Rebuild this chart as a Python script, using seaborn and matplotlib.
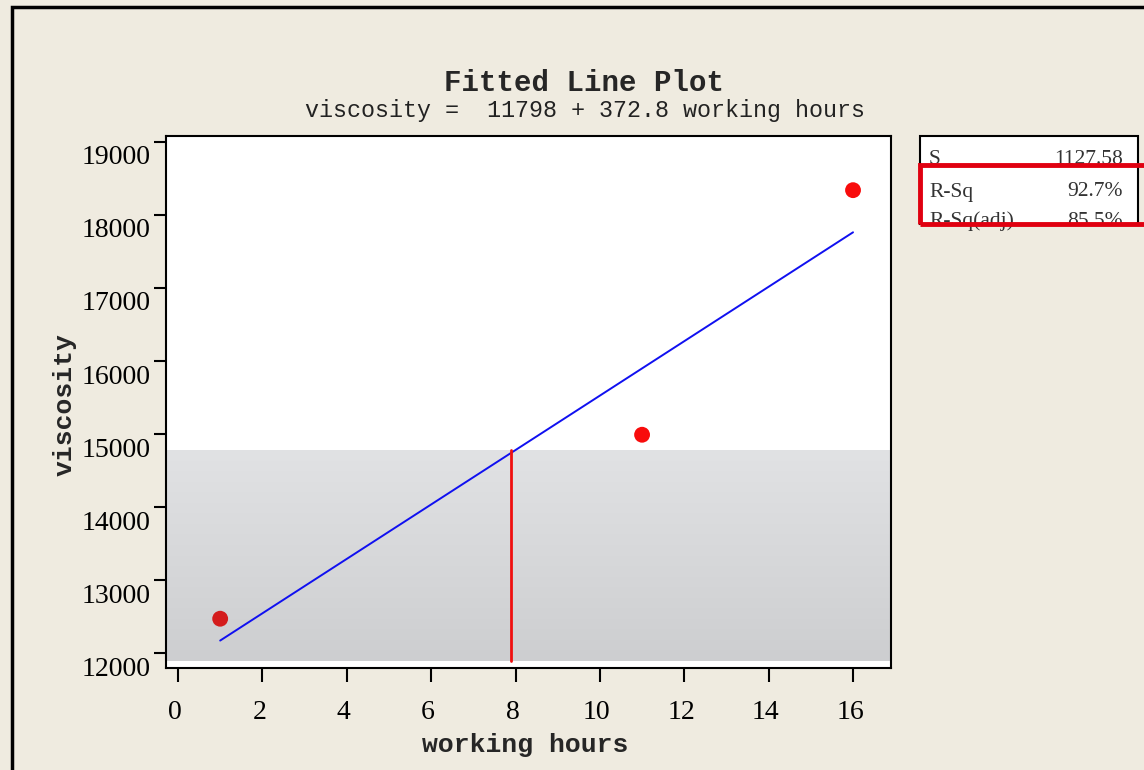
import numpy as np
import pandas as pd
import matplotlib
matplotlib.use("Agg")
import matplotlib.pyplot as plt
import matplotlib.transforms as mtransforms
from matplotlib.patches import Rectangle
from matplotlib.colors import LinearSegmentedColormap
import seaborn as sns

# ---- data ----
hours = [1, 11, 16]
viscosity = [12470, 14990, 18340]
intercept = 11798
slope = 372.8
stat_names = ["S", "R-Sq", "R-Sq(adj)"]
stat_values = ["1127.58", "92.7%", "85.5%"]
x_ticks = [0, 2, 4, 6, 8, 10, 12, 14, 16]
y_ticks = [12000, 13000, 14000, 15000, 16000, 17000, 18000, 19000]
band_top = 14780
band_bottom = 11890
marker_x = 7.9

sns.set_theme(style="white")
plt.rcParams['font.family'] = ['Liberation Serif', 'DejaVu Sans']

BG = "#EFEBE0"
fig = plt.figure(figsize=(11.44, 7.70), dpi=100, facecolor=BG)
W, H = 1144, 770

def fx(px):
    return px / W

def fy(py):
    return 1 - py / H

# outer frame
fig.patches.append(Rectangle((fx(12), fy(800)), fx(1200), fy(7) - fy(800),
                             transform=fig.transFigure, fill=False,
                             edgecolor="black", linewidth=2.5, zorder=0))

ax = fig.add_axes([fx(166), fy(668), fx(891) - fx(166), fy(136) - fy(668)])
ax.set_facecolor("white")
XL = (-0.284, 16.90)
YL = (11795, 19082)

# gradient band
grad = np.linspace(0, 1, 256).reshape(-1, 1)
cmap = LinearSegmentedColormap.from_list("g", ["#CDCED0", "#E1E2E4"])
ax.imshow(grad, cmap=cmap, origin="lower", aspect="auto",
          extent=[XL[0], XL[1], band_bottom, band_top], zorder=0.5)

# fitted line
fit_x = np.array([hours[0], hours[-1]])
fit_df = pd.DataFrame({"x": fit_x, "y": intercept + slope * fit_x})
sns.lineplot(data=fit_df, x="x", y="y", ax=ax, color="#1010F0", linewidth=1.4, zorder=3)

# red vertical marker line
ax.plot([marker_x, marker_x], [band_bottom, band_top], color="#F01010", linewidth=2, zorder=3)

# points
pts = pd.DataFrame({"x": hours, "y": viscosity, "g": ["a", "b", "b"]})
sns.scatterplot(data=pts, x="x", y="y", hue="g", palette={"a": "#D41C1C", "b": "#F80C0C"},
                s=130, edgecolor="none", ax=ax, legend=False, zorder=4)

ax.set_xlim(*XL)
ax.set_ylim(*YL)
ax.set_xlabel("")
ax.set_ylabel("")
ax.set_xticks(x_ticks)
ax.set_yticks(y_ticks)
ax.set_xticklabels([str(t) for t in x_ticks], fontsize=20)
ax.set_yticklabels([str(t) for t in y_ticks], fontsize=20)
ax.tick_params(axis="x", direction="out", length=10, width=1.5, pad=13, colors="black",
               bottom=True)
ax.tick_params(axis="y", direction="out", length=9, width=1.5, pad=2, colors="black",
               left=True)
for lab in ax.get_yticklabels():
    lab.set_transform(lab.get_transform() + mtransforms.ScaledTranslation(0, -13 / 100, fig.dpi_scale_trans))
for lab in ax.get_xticklabels():
    lab.set_transform(lab.get_transform() + mtransforms.ScaledTranslation(-3 / 100, 0, fig.dpi_scale_trans))
for s in ax.spines.values():
    s.set_color("black")
    s.set_linewidth(1.5)

# titles
fig.text(fx(584), fy(83), "Fitted Line Plot", ha="center", va="center",
         fontsize=21, fontweight="bold", family=["Liberation Mono", "DejaVu Sans"])
fig.text(fx(585), fy(111), "viscosity =  11798 + 372.8 working hours", ha="center", va="center",
         fontsize=16.8, family=["Liberation Mono", "DejaVu Sans"], color="#222222")
fig.text(fx(525), fy(745), "working hours", ha="center", va="center",
         fontsize=19, fontweight="bold", family=["Liberation Mono", "DejaVu Sans"])
fig.text(fx(65), fy(405), "viscosity", ha="center", va="center", rotation=90,
         fontsize=19, fontweight="bold", family=["Liberation Mono", "DejaVu Sans"])

# stats box
fig.patches.append(Rectangle((fx(920), fy(224)), fx(1138) - fx(920), fy(136) - fy(224),
                             transform=fig.transFigure, facecolor="white",
                             edgecolor="black", linewidth=1.5, zorder=1))
ys = [160, 192, 221]
for name, val, yy in zip(stat_names, stat_values, ys):
    fig.text(fx(929), fy(yy), name, ha="left", va="center", fontsize=15.5, color="#333333", zorder=2)
    fig.text(fx(1123), fy(yy), val, ha="right", va="center", fontsize=15.5, color="#333333", zorder=2)
fig.patches.append(Rectangle((fx(920), fy(224)), fx(1300) - fx(920), fy(165) - fy(224),
                             transform=fig.transFigure, fill=False,
                             edgecolor="#E00010", linewidth=3.5, zorder=3))

fig.savefig("out.png", dpi=100, facecolor=BG)
